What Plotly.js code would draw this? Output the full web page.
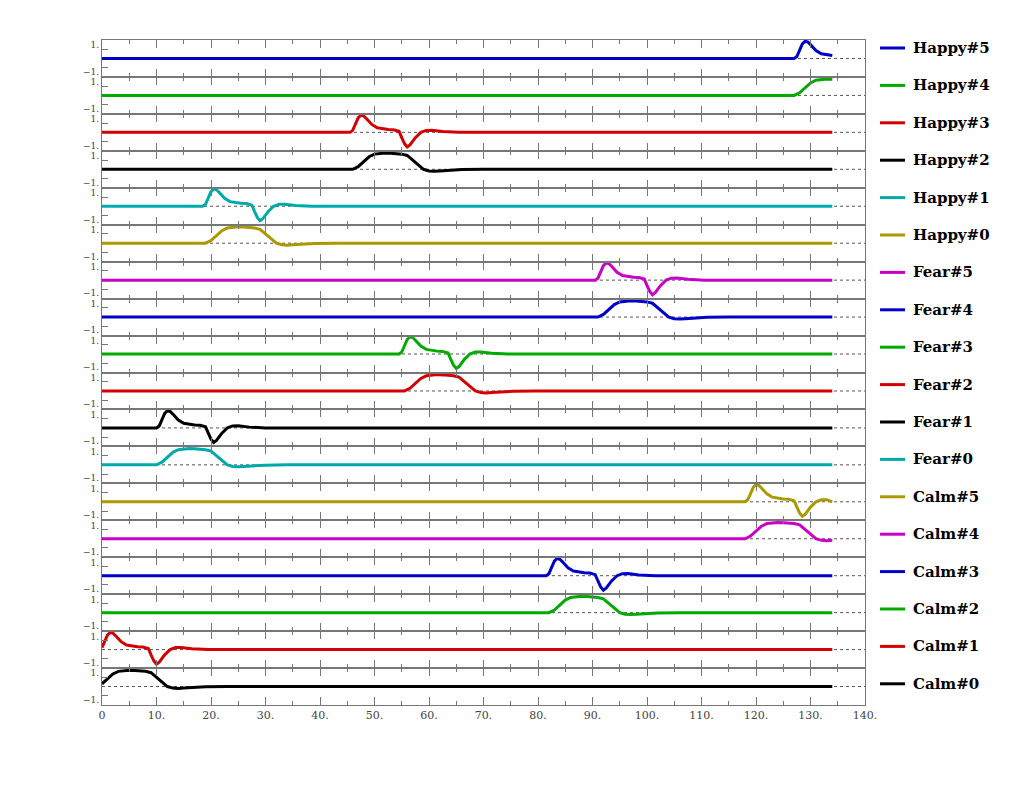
<!DOCTYPE html>
<html>
<head>
<meta charset="utf-8">
<script src="https://cdn.plot.ly/plotly-3.0.1.min.js"></script>
<style>body{margin:0;background:#fff}</style>
</head>
<body>
<div id="myDiv" style="width:1024px;height:787px"></div>
<script>
// series names, bottom strip first
let names = ['Calm#0', 'Calm#1', 'Calm#2', 'Calm#3', 'Calm#4', 'Calm#5',
  'Fear#0', 'Fear#1', 'Fear#2', 'Fear#3', 'Fear#4', 'Fear#5',
  'Happy#0', 'Happy#1', 'Happy#2', 'Happy#3', 'Happy#4', 'Happy#5']
// where each pulse starts
let onsets = [-1, -0.5, 82, 81.5, 118, 118,
  10, 10, 55.5, 54.5, 91, 90.5,
  19, 18.5, 46, 45.5, 127, 127]
// even index = plateau pulse, odd index = peak/trough pulse
let plateauDx = [0, 1, 2, 3, 4, 5, 6, 7, 8, 9, 10, 11, 12, 13, 14, 15, 16, 18, 20, 24]
let plateauY = [0, 0.2, 0.6, 0.95, 1.15, 1.22, 1.24, 1.22, 1.2, 1.15, 1.05, 0.7, 0.3, 0, -0.12, -0.15, -0.12, -0.06, -0.02, 0]
let peakDx = [0, 0.5, 1, 1.5, 2, 2.5, 3, 4, 5, 6, 7, 8, 9, 9.5, 10, 10.5, 11, 12, 13, 14, 15, 17, 20]
let peakY = [0, 0.15, 0.6, 1.1, 1.3, 1.25, 1.05, 0.6, 0.35, 0.28, 0.22, 0.2, 0.08, -0.4, -0.85, -1.1, -0.95, -0.4, 0, 0.15, 0.16, 0.06, 0]
let palette = ['#000000', '#d40000', '#00aa00', '#0000c8', '#c800c8', '#aa9900', '#00aaaa']
let xTicks = [0, 10, 20, 30, 40, 50, 60, 70, 80, 90, 100, 110, 120, 130, 140]
let xEnd = 134

let n = names.length
let traces = []
let shapes = []
let annotations = []
let layout = {
  width: 1024, height: 787,
  margin: {l: 102, r: 159, t: 40, b: 82},
  showlegend: false,
  paper_bgcolor: '#fff', plot_bgcolor: '#fff',
  font: {family: 'DejaVu Serif', size: 10, color: '#444'}
}

for (let i = 0; i < n; i++) {
  let dx = i % 2 === 0 ? plateauDx : peakDx
  let dy = i % 2 === 0 ? plateauY : peakY
  let xs = [], ys = []
  if (onsets[i] > 0) { xs.push(0); ys.push(0) }
  for (let k = 0; k < dx.length; k++) {
    let xv = onsets[i] + dx[k]
    if (xv >= 0 && xv <= xEnd) { xs.push(xv); ys.push(dy[k]) }
  }
  if (xs[xs.length - 1] < xEnd - 0.5) { xs.push(xEnd); ys.push(0) }
  let suf = i === 0 ? '' : String(i + 1)
  let color = palette[i % palette.length]
  traces.push({
    x: xs, y: ys, xaxis: 'x' + suf, yaxis: 'y' + suf,
    mode: 'lines', line: {color: color, width: 3, shape: 'linear'},
    name: names[i], hoverinfo: 'skip'
  })
  layout['xaxis' + suf] = {
    range: [0, 140], domain: [0, 1], anchor: 'y' + suf,
    showline: true, mirror: 'ticks', linecolor: '#777', linewidth: 1,
    ticks: 'inside', tickvals: xTicks, ticklen: 8, tickcolor: '#777',
    minor: {tickvals: xTicks.map(v => v + 5), ticklen: 4, tickcolor: '#777', ticks: 'inside'},
    showgrid: false, zeroline: false,
    showticklabels: i === 0,
    ticktext: xTicks.map(v => v === 0 ? '0' : v + '.'),
    tickfont: {family: 'DejaVu Serif', size: 11, color: '#444'}
  }
  layout['yaxis' + suf] = {
    range: [-1.4, 1.4], domain: [i / n, (i + 1) / n], anchor: 'x' + suf,
    showline: true, mirror: true, linecolor: '#777', linewidth: 1,
    tickvals: [-1, 1], ticktext: ['\u22121.', '1.'], ticks: '',
    minor: {tickvals: [-0.7, 0.7], ticklen: 6, tickcolor: '#777', ticks: 'inside'},
    showgrid: false, zeroline: false,
    tickfont: {family: 'DejaVu Serif', size: 9, color: '#444'}
  }
  shapes.push({type: 'line', xref: 'x' + suf, yref: 'y' + suf, x0: 0, x1: 140, y0: 0, y1: 0,
    line: {color: '#555', width: 1, dash: 'dot'}, layer: 'below'})
  // legend entry, drawn by hand so it lines up with the strips
  let row = n - 1 - i
  let ly = 1 - (48 + row * 37.4 - 40) / 665
  shapes.push({type: 'line', xref: 'paper', yref: 'paper', x0: 1.0197, x1: 1.0524, y0: ly, y1: ly,
    line: {color: color, width: 3}})
  annotations.push({xref: 'paper', yref: 'paper', x: 1.060, y: ly, xanchor: 'left', yanchor: 'middle',
    text: '<b>' + names[i] + '</b>', showarrow: false,
    font: {family: 'DejaVu Serif', size: 15, color: '#000'}})
}
layout.shapes = shapes
layout.annotations = annotations

Plotly.newPlot('myDiv', traces, layout, {displayModeBar: false})
</script>
</body>
</html>
